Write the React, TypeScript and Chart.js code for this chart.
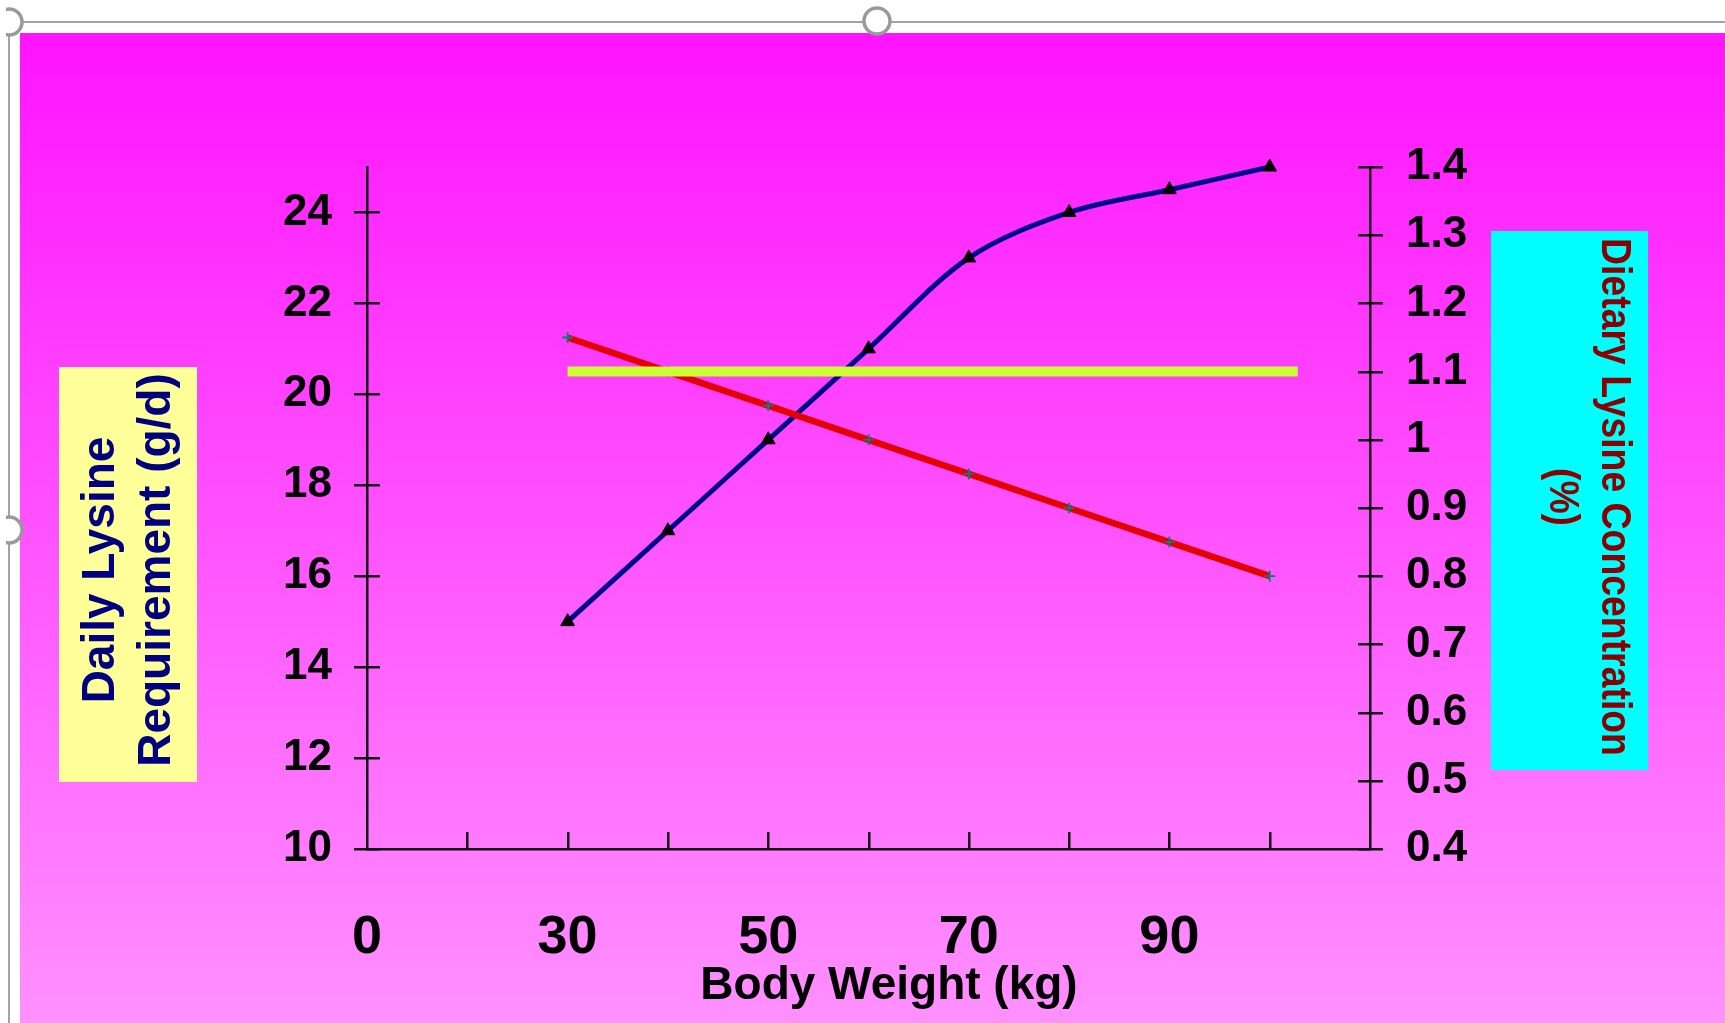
import React, { useEffect, useRef } from 'react';
import { Chart, registerables } from 'chart.js';

Chart.register(...registerables);

// ---------------- data ----------------
const categories = ['0', '20', '30', '40', '50', '60', '70', '80', '90', '100', ''];
const labelledCategories = ['0', '30', '50', '70', '90'];
const bodyWeight = ['30', '40', '50', '60', '70', '80', '90', '100'];
const dailyLysineReq = [15, 17, 19, 21, 23, 24, 24.5, 25];
const dietaryLysineConc = [1.15, 1.1, 1.05, 1.0, 0.95, 0.9, 0.85, 0.8];
const targetLevel = [1.1, 1.1];
const targetSpan = [2, 9.28]; // category positions (30 kg to ~103 kg)
const leftAxisRange = [10, 25];
const leftAxisStep = 2;
const rightAxisRange = [0.4, 1.4];
const rightAxisStep = 0.1;

const leftTitle = ['Daily Lysine', 'Requirement (g/d)'];
const rightTitle = ['Dietary Lysine Concentration', '(%)'];
const xTitle = 'Body Weight (kg)';

// ---------------- layout ----------------
const W = 1725;
const H = 1023;
const AREA = { left: 367, right: 1370, top: 167, bottom: 849 };
const FONT = "'Liberation Sans', Arial, Helvetica, sans-serif";

const backgroundPlugin = {
  id: 'pageBackground',
  beforeDraw(chart: any) {
    const ctx = chart.ctx as CanvasRenderingContext2D;
    ctx.save();
    ctx.fillStyle = '#ffffff';
    ctx.fillRect(0, 0, W, H);
    ctx.strokeStyle = '#a3a3a3';
    ctx.lineWidth = 2;
    ctx.beginPath();
    ctx.moveTo(9, 22);
    ctx.lineTo(W, 22);
    ctx.moveTo(9, 22);
    ctx.lineTo(9, H);
    ctx.stroke();
    const g = ctx.createLinearGradient(0, 33, 0, H);
    g.addColorStop(0, '#FF14FF');
    g.addColorStop(1, '#FF90FF');
    ctx.fillStyle = g;
    ctx.fillRect(20, 33, W - 20, H - 33);
    const handles = [
      [9, 22],
      [877, 21],
      [9, 530],
    ];
    ctx.lineWidth = 3.5;
    ctx.strokeStyle = '#9a9a9a';
    handles.forEach(([hx, hy]) => {
      ctx.beginPath();
      ctx.arc(hx, hy, 13, 0, Math.PI * 2);
      ctx.fillStyle = '#ffffff';
      ctx.fill();
      ctx.stroke();
    });
    ctx.fillStyle = '#ffffff';
    ctx.fillRect(0, 0, 6, H);
    ctx.restore();
  },
};

const tickMarksPlugin = {
  id: 'crossTicks',
  beforeDatasetsDraw(chart: any) {
    const ctx = chart.ctx as CanvasRenderingContext2D;
    const area = chart.chartArea;
    const { x, y, y1 } = chart.scales;
    ctx.save();
    ctx.strokeStyle = '#111111';
    ctx.lineWidth = 2.5;
    ctx.beginPath();
    y.ticks.forEach((t: any) => {
      const py = Math.round(y.getPixelForValue(t.value)) + 0.25;
      ctx.moveTo(area.left - 13, py);
      ctx.lineTo(area.left + 13, py);
    });
    y1.ticks.forEach((t: any) => {
      const py = Math.round(y1.getPixelForValue(t.value)) + 0.25;
      ctx.moveTo(area.right - 12, py);
      ctx.lineTo(area.right + 13, py);
    });
    x.ticks.forEach((t: any) => {
      if (t.value <= 0 || t.value >= categories.length - 1) return;
      const px = Math.round(x.getPixelForValue(t.value)) + 0.25;
      ctx.moveTo(px, area.bottom - 17);
      ctx.lineTo(px, area.bottom);
    });
    ctx.stroke();
    ctx.restore();
  },
};

const titlesPlugin = {
  id: 'axisTitleBoxes',
  afterDraw(chart: any) {
    const ctx = chart.ctx as CanvasRenderingContext2D;
    ctx.save();
    // left title box
    ctx.fillStyle = '#FFFF99';
    ctx.fillRect(59, 367, 138, 415);
    ctx.fillStyle = '#000080';
    ctx.font = `bold 46px ${FONT}`;
    ctx.textAlign = 'center';
    ctx.textBaseline = 'middle';
    const leftX = [101, 157];
    leftTitle.forEach((line, i) => {
      ctx.save();
      ctx.translate(leftX[i], 570);
      ctx.rotate(-Math.PI / 2);
      ctx.fillText(line, 0, 0);
      ctx.restore();
    });
    // right title box
    ctx.fillStyle = '#00FFFF';
    ctx.fillRect(1491, 231, 157, 539);
    ctx.fillStyle = '#8B0000';
    ctx.font = `bold 42px ${FONT}`;
    const rightX = [1614, 1562];
    rightTitle.forEach((line, i) => {
      ctx.save();
      ctx.translate(rightX[i], 497);
      ctx.rotate(Math.PI / 2);
      ctx.scale(0.89, 1);
      ctx.fillText(line, 0, 0);
      ctx.restore();
    });
    // x title
    ctx.fillStyle = '#000000';
    ctx.font = `bold 46px ${FONT}`;
    ctx.fillText(xTitle, 889, 986);
    ctx.restore();
  },
};

const tickFont = (size: number) => ({ family: FONT, size, weight: 'bold' as const, lineHeight: 1.2 });

export default function App() {
  const ref = useRef<HTMLCanvasElement>(null);

  useEffect(() => {
    if (!ref.current) return;
    const chart = new Chart(ref.current, {
      type: 'line',
      data: {
        datasets: [
          {
            label: 'Target concentration',
            data: targetSpan.map((px, i) => ({ x: px, y: targetLevel[i] })),
            yAxisID: 'y1',
            borderColor: '#CCFF33',
            borderWidth: 10,
            borderCapStyle: 'butt',
            pointRadius: 0,
            order: 0,
            clip: false,
          },
          {
            label: 'Dietary Lysine Concentration (%)',
            data: bodyWeight.map((w, i) => ({ x: categories.indexOf(w), y: dietaryLysineConc[i] })),
            yAxisID: 'y1',
            borderColor: '#E50000',
            borderWidth: 6.5,
            tension: 0,
            pointStyle: 'cross',
            pointRadius: 5.5,
            pointBorderColor: '#008080',
            pointBackgroundColor: '#008080',
            pointBorderWidth: 1.8,
            order: 1,
            clip: false,
          },
          {
            label: 'Daily Lysine Requirement (g/d)',
            data: bodyWeight.map((w, i) => ({ x: categories.indexOf(w), y: dailyLysineReq[i] })),
            yAxisID: 'y',
            borderColor: '#00008B',
            borderWidth: 5,
            tension: 0.33,
            pointStyle: 'triangle',
            pointRadius: 8,
            pointBackgroundColor: '#000000',
            pointBorderColor: '#000000',
            pointBorderWidth: 1,
            order: 2,
            clip: false,
          },
        ],
      } as any,
      options: {
        animation: false,
        responsive: false,
        devicePixelRatio: 1,
        layout: { padding: { left: 0, right: 0, top: AREA.top, bottom: 0 } },
        plugins: { legend: { display: false }, tooltip: { enabled: false } },
        scales: {
          x: {
            type: 'linear',
            position: 'bottom',
            min: 0,
            max: categories.length - 1,
            afterFit: (s: any) => {
              s.height = H - AREA.bottom;
            },
            grid: { display: false, drawTicks: false },
            border: { display: true, color: '#111111', width: 2.5 },
            ticks: {
              stepSize: 1,
              autoSkip: false,
              maxRotation: 0,
              padding: 57,
              color: '#000000',
              font: tickFont(54),
              callback: (v: any) => {
                const lab = categories[Math.round(Number(v))];
                return labelledCategories.includes(lab) ? lab : '';
              },
            },
          },
          y: {
            type: 'linear',
            position: 'left',
            min: leftAxisRange[0],
            max: leftAxisRange[1],
            afterFit: (s: any) => {
              s.width = AREA.left;
            },
            grid: { display: false, drawTicks: false },
            border: { display: true, color: '#111111', width: 2.5 },
            ticks: {
              stepSize: leftAxisStep,
              includeBounds: false,
              padding: 35,
              color: '#000000',
              font: tickFont(44),
            },
          },
          y1: {
            type: 'linear',
            position: 'right',
            min: rightAxisRange[0],
            max: rightAxisRange[1],
            afterFit: (s: any) => {
              s.width = W - AREA.right;
            },
            grid: { display: false, drawTicks: false },
            border: { display: true, color: '#111111', width: 2.5 },
            ticks: {
              stepSize: rightAxisStep,
              padding: 36,
              color: '#000000',
              font: tickFont(44),
              callback: (v: any) => String(Math.round(Number(v) * 10) / 10),
            },
          },
        },
      } as any,
      plugins: [backgroundPlugin, tickMarksPlugin, titlesPlugin],
    });
    return () => chart.destroy();
  }, []);

  return (
    <div style={{ position: 'absolute', left: 0, top: 0, width: W, height: H }}>
      <canvas ref={ref} width={W} height={H} style={{ display: 'block', width: W, height: H }} />
    </div>
  );
}
